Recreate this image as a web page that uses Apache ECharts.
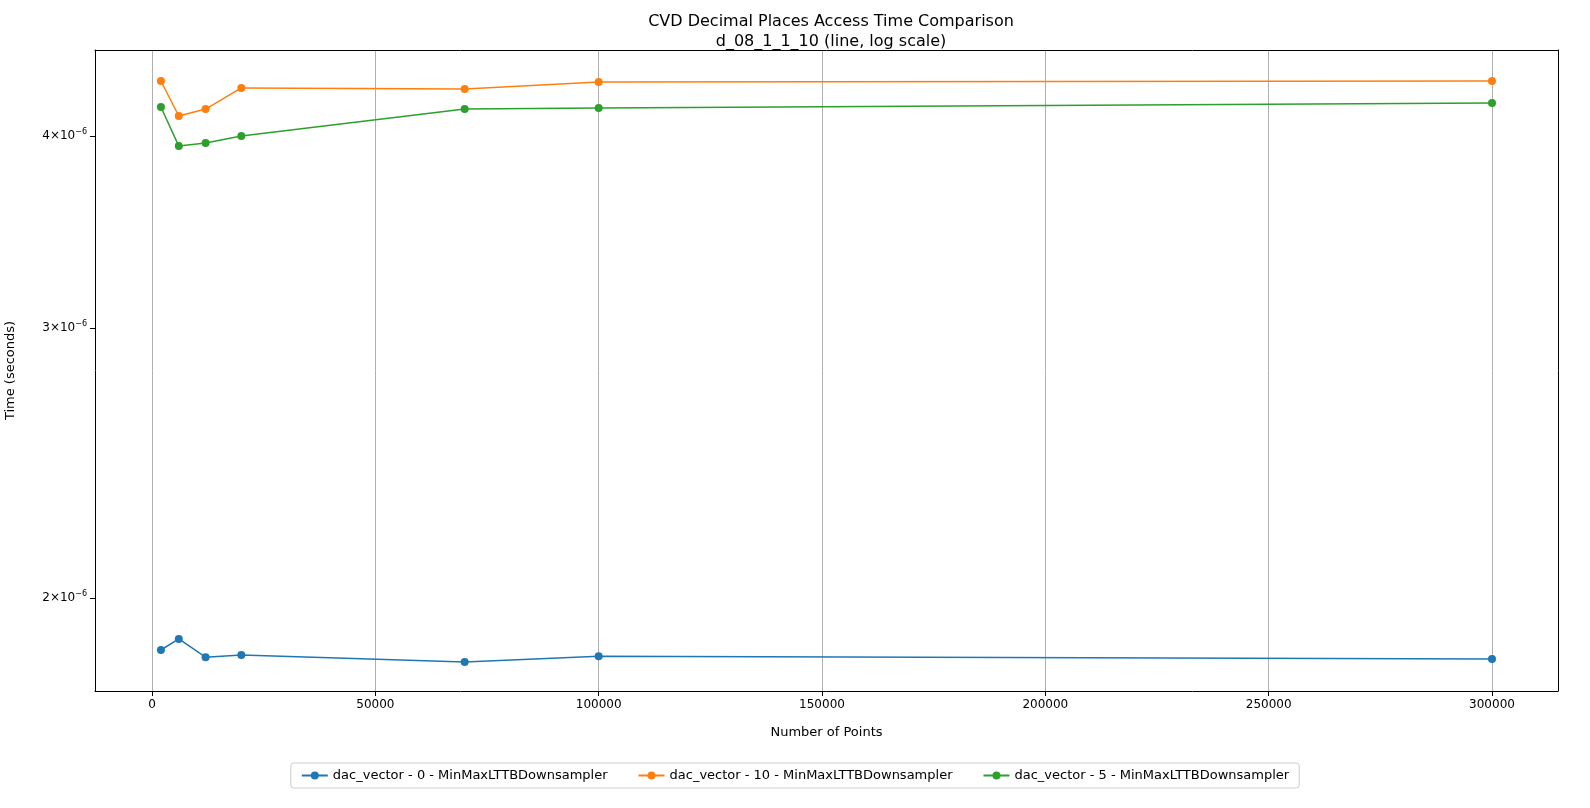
<!DOCTYPE html>
<html>
<head>
<meta charset="utf-8">
<script src="https://cdn.jsdelivr.net/npm/echarts@6/dist/echarts.min.js"></script>
<style>html,body{margin:0;padding:0;background:#fff}#chart{width:1590px;height:808px}</style>
</head>
<body>
<div id="chart"></div>
<script>
var points = [2000, 6000, 12000, 20000, 70000, 100000, 300000];
var dac0 = [1.850e-6, 1.881e-6, 1.830e-6, 1.836e-6, 1.817e-6, 1.833e-6, 1.825e-6];
var dac10 = [4.344e-6, 4.122e-6, 4.165e-6, 4.299e-6, 4.292e-6, 4.338e-6, 4.344e-6];
var dac5 = [4.178e-6, 3.940e-6, 3.958e-6, 4.000e-6, 4.165e-6, 4.171e-6, 4.203e-6];
var xTicks = [0, 50000, 100000, 150000, 200000, 250000, 300000];
var yTicks = [2e-6, 3e-6, 4e-6];

function pairs(ys) {
    return points.map(function(x, i) { return [x, ys[i]]; });
}
function mkSeries(name, ys, color) {
    return {
        name: name, type: 'line', data: pairs(ys), symbol: 'circle', symbolSize: 8,
        lineStyle: { color: color, width: 1.5 }, itemStyle: { color: color }
    };
}

var xMin = -12760, xMax = 314776, yMin = 1.7396e-6, yMax = 4.551e-6;
var blank = { show: false };

var myChart = echarts.init(document.getElementById('chart'));
myChart.setOption({
    animation: false,
    textStyle: { fontFamily: 'DejaVu Sans' },
    title: {
        text: 'CVD Decimal Places Access Time Comparison\nd_08_1_1_10 (line, log scale)',
        left: 826, top: 7, textAlign: 'center',
        textStyle: { fontSize: 16, fontWeight: 'normal', color: '#000', lineHeight: 20 }
    },
    grid: { left: 95, right: 32, top: 50, bottom: 117, containLabel: false, outerBoundsMode: 'none' },
    legend: {
        bottom: 20, left: 'center', itemWidth: 26, itemHeight: 10, itemGap: 30,
        borderColor: '#ccc', borderWidth: 1, borderRadius: 3, padding: [6, 10],
        textStyle: { fontSize: 13, color: '#000' },
        data: ['dac_vector - 0 - MinMaxLTTBDownsampler', 'dac_vector - 10 - MinMaxLTTBDownsampler', 'dac_vector - 5 - MinMaxLTTBDownsampler']
    },
    xAxis: [{
        type: 'value', min: xMin, max: xMax,
        name: 'Number of Points', nameLocation: 'middle', nameGap: 35,
        nameTextStyle: { fontSize: 13, color: '#000' },
        axisLine: { onZero: false, lineStyle: { color: '#000' } },
        axisTick: { show: true, length: 5, lineStyle: { color: '#000' }, customValues: xTicks },
        axisLabel: { fontSize: 12, color: '#000', hideOverlap: false, showMinLabel: true, showMaxLabel: true, customValues: xTicks,
            formatter: function(v) { return String(v); } },
        splitLine: { show: true, lineStyle: { color: '#b0b0b0' } }
    }, {
        type: 'value', position: 'top', min: xMin, max: xMax,
        axisLine: { show: true, onZero: false, lineStyle: { color: '#000' } },
        axisTick: blank, axisLabel: blank, splitLine: blank
    }],
    yAxis: [{
        type: 'log', logBase: 10, min: yMin, max: yMax,
        name: 'Time (seconds)', nameLocation: 'middle', nameGap: 78,
        nameTextStyle: { fontSize: 13, color: '#000' },
        axisLine: { show: true, onZero: false, lineStyle: { color: '#000' } },
        axisTick: { show: true, length: 5, lineStyle: { color: '#000' }, customValues: yTicks },
        axisLabel: {
            fontSize: 12, color: '#000', customValues: yTicks,
            formatter: function(v) { return '{b|' + Math.round(v * 1e6) + '×10}{s|−6}'; },
            rich: { b: { fontSize: 12, color: '#000' }, s: { fontSize: 8, color: '#000', verticalAlign: 'top', padding: [0, 0, 8, 0] } }
        },
        splitLine: { show: false }
    }, {
        type: 'log', logBase: 10, position: 'right', min: yMin, max: yMax,
        axisLine: { show: true, onZero: false, lineStyle: { color: '#000' } },
        axisTick: blank, axisLabel: blank, splitLine: blank
    }],
    series: [
        mkSeries('dac_vector - 0 - MinMaxLTTBDownsampler', dac0, '#1f77b4'),
        mkSeries('dac_vector - 10 - MinMaxLTTBDownsampler', dac10, '#ff7f0e'),
        mkSeries('dac_vector - 5 - MinMaxLTTBDownsampler', dac5, '#2ca02c')
    ]
});
</script>
</body>
</html>
